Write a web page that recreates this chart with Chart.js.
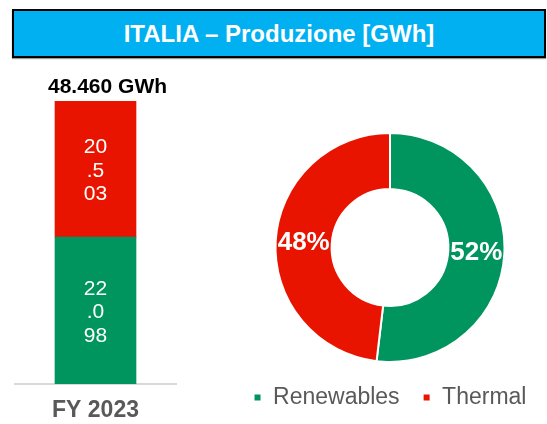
<!DOCTYPE html>
<html>
<head>
<meta charset="utf-8">
<script src="https://cdn.jsdelivr.net/npm/chart.js@4.4.1/dist/chart.umd.min.js"></script>
<style>
  body { margin: 0; background: #fff; width: 547px; height: 424px; overflow: hidden; position: relative; font-family: Arial, "Liberation Sans", sans-serif; }
  #titolo {
    position: absolute; left: 12px; top: 9px; width: 530px; height: 45px;
    background: #00B0F0; border: 2px solid #000; box-shadow: 0 1px 1px #999;
    color: #fff; font-weight: bold; font-size: 24px; line-height: 45px; text-align: center;
  }
  #barWrap { position: absolute; left: 0; top: 70px; width: 190px; height: 354px; }
  #donutWrap { position: absolute; left: 225px; top: 120px; width: 330px; height: 299px; }
</style>
</head>
<body>
<div id="titolo">ITALIA – Produzione [GWh]</div>
<div id="barWrap"><canvas id="barChart" width="190" height="354"></canvas></div>
<div id="donutWrap"><canvas id="donutChart" width="330" height="299"></canvas></div>
<script>
// dati
const periodi = ['FY 2023'];
const fonti = ['Renewables', 'Thermal'];
const rinnovabili = [22098];
const termico = [20503];
const totale = [48460];
const colori = ['#00955F', '#E81400'];

const FONT = 'Arial, "Liberation Sans", sans-serif';

function formatta(n) {
  // separatore migliaia all'italiana
  return String(n).replace(/\B(?=(\d{3})+(?!\d))/g, '.');
}

// etichette dentro le barre (testo spezzato come nell'originale)
const etichetteBarre = {
  id: 'etichetteBarre',
  afterDatasetsDraw(chart) {
    const ctx = chart.ctx;
    ctx.save();
    ctx.fillStyle = '#fff';
    ctx.font = '21px ' + FONT;
    ctx.textAlign = 'center';
    ctx.textBaseline = 'middle';
    chart.data.datasets.forEach((ds, i) => {
      chart.getDatasetMeta(i).data.forEach((bar, j) => {
        const txt = formatta(ds.data[j]);
        const righe = txt.match(/.{1,2}/g);
        const mid = (bar.y + bar.base) / 2 + 2;
        righe.forEach((r, k) => {
          ctx.fillText(r, bar.x, mid + (k - (righe.length - 1) / 2) * 23.5);
        });
      });
    });
    // totale sopra la barra
    const top = chart.getDatasetMeta(chart.data.datasets.length - 1).data[0];
    ctx.fillStyle = '#000';
    ctx.font = 'bold 21px ' + FONT;
    ctx.fillText(formatta(totale[0]) + ' GWh', top.x + 12, top.y - 14);
    ctx.restore();
  }
};

new Chart(document.getElementById('barChart'), {
  type: 'bar',
  data: {
    labels: periodi,
    datasets: [
      { label: fonti[0], data: rinnovabili, backgroundColor: colori[0], barThickness: 81 },
      { label: fonti[1], data: termico, backgroundColor: colori[1], barThickness: 81 }
    ]
  },
  options: {
    responsive: false,
    animation: false,
    layout: { padding: { left: 15, right: 14, top: 31, bottom: 0 } },
    plugins: { legend: { display: false }, tooltip: { enabled: false } },
    scales: {
      x: {
        stacked: true,
        grid: { display: false, drawTicks: false },
        border: { display: true, color: '#D9D9D9', width: 2 },
        ticks: { color: '#595959', font: { family: FONT, size: 23, weight: 'bold' }, padding: 13 },
        afterFit(scale) { scale.height = 40; }
      },
      y: { stacked: true, display: false, min: 0, max: rinnovabili[0] + termico[0] }
    }
  },
  plugins: [etichetteBarre]
});

// percentuali sulla ciambella
const etichetteCiambella = {
  id: 'etichetteCiambella',
  afterDatasetsDraw(chart) {
    const ctx = chart.ctx;
    const ds = chart.data.datasets[0];
    const tot = ds.data.reduce((a, b) => a + b, 0);
    ctx.save();
    ctx.fillStyle = '#fff';
    ctx.font = 'bold 26px ' + FONT;
    ctx.textAlign = 'center';
    ctx.textBaseline = 'middle';
    chart.getDatasetMeta(0).data.forEach((arc, i) => {
      const p = arc.tooltipPosition();
      ctx.fillText(Math.round(ds.data[i] / tot * 100) + '%', p.x, p.y);
    });
    ctx.restore();
  }
};

new Chart(document.getElementById('donutChart'), {
  type: 'doughnut',
  data: {
    labels: fonti,
    datasets: [{
      data: [rinnovabili[0], termico[0]],
      backgroundColor: colori,
      borderColor: '#fff',
      borderWidth: 2
    }]
  },
  options: {
    responsive: false,
    animation: false,
    cutout: '51%',
    layout: { padding: { top: 12, bottom: 0, left: 0, right: 0 } },
    plugins: {
      tooltip: { enabled: false },
      legend: {
        position: 'bottom',
        labels: {
          color: '#595959',
          font: { family: FONT, size: 23 },
          boxWidth: 8,
          boxHeight: 8,
          padding: 23
        }
      }
    }
  },
  plugins: [etichetteCiambella]
});
</script>
</body>
</html>
